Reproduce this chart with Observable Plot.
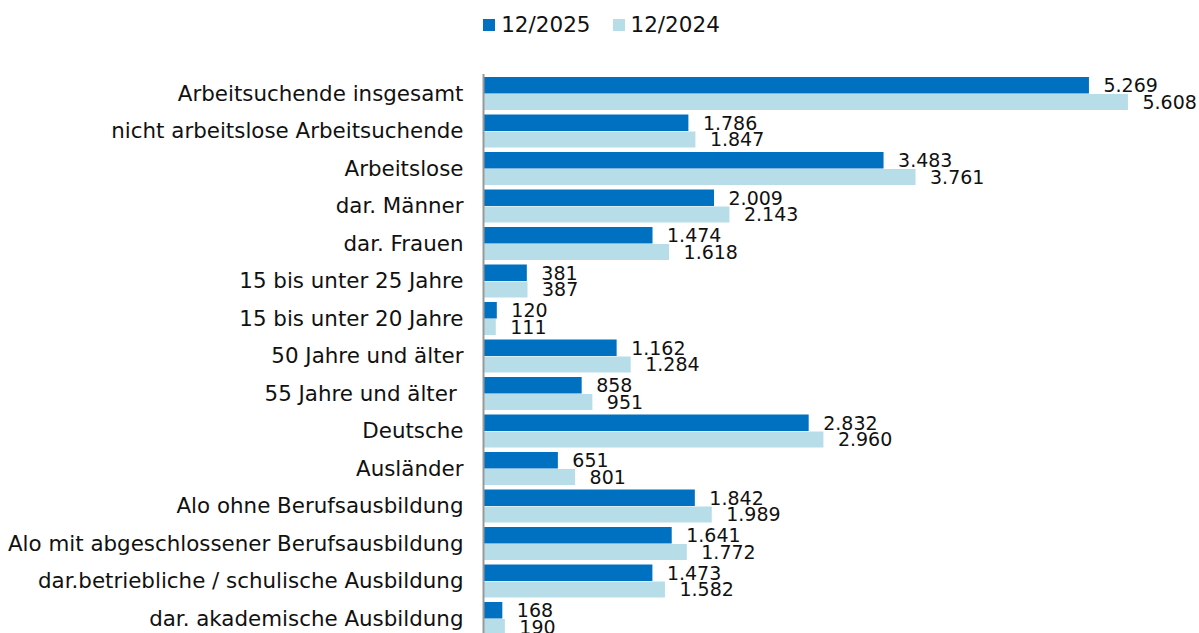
<!DOCTYPE html>
<html>
<head>
<meta charset="utf-8">
<script src="https://cdn.jsdelivr.net/npm/d3@7"></script>
<script src="https://cdn.jsdelivr.net/npm/@observablehq/plot@0.6"></script>
<style>
  html, body { margin: 0; padding: 0; overflow: hidden; background: #fff; }
  body { width: 1199px; height: 633px; font-family: "DejaVu Sans", Verdana, sans-serif; }
  #legend { height: 50px; display: flex; justify-content: center; align-items: flex-start; padding-left: 4px; box-sizing: border-box; }
  .item { display: flex; align-items: center; margin: 0 11px; margin-top: 12px; font-size: 21.5px; color: #111; }
  .sw { width: 12px; height: 12px; margin-right: 6px; margin-top: 1px; }
</style>
</head>
<body>
<div id="legend"></div>
<div id="chart"></div>
<script>
const categories = [
  "Arbeitsuchende insgesamt",
  "nicht arbeitslose Arbeitsuchende",
  "Arbeitslose",
  "dar. Männer",
  "dar. Frauen",
  "15 bis unter 25 Jahre",
  "15 bis unter 20 Jahre",
  "50 Jahre und älter",
  "55 Jahre und älter ",
  "Deutsche",
  "Ausländer",
  "Alo ohne Berufsausbildung",
  "Alo mit abgeschlossener Berufsausbildung",
  "dar.betriebliche / schulische Ausbildung",
  "dar. akademische Ausbildung"
];
const seriesNames = ["12/2025", "12/2024"];
const values2025 = [5269, 1786, 3483, 2009, 1474, 381, 120, 1162, 858, 2832, 651, 1842, 1641, 1473, 168];
const values2024 = [5608, 1847, 3761, 2143, 1618, 387, 111, 1284, 951, 2960, 801, 1989, 1772, 1582, 190];
const colors = ["#0070C0", "#B6DDE8"];

const de = d3.formatLocale({decimal: ",", thousands: ".", grouping: [3], currency: ["", " €"]});
const fmt = de.format(",d");

const d25 = categories.map((c, i) => ({cat: c, v: values2025[i]}));
const d24 = categories.map((c, i) => ({cat: c, v: values2024[i]}));

// legend
const lg = document.getElementById("legend");
seriesNames.forEach((s, i) => {
  const it = document.createElement("div");
  it.className = "item";
  it.innerHTML = `<span class="sw" style="background:${colors[i]}"></span><span>${s}</span>`;
  lg.appendChild(it);
});

const half = 16.5;
const chart = Plot.plot({
  width: 1199,
  height: 592,
  marginLeft: 483,
  marginRight: 26,
  marginTop: 24,
  marginBottom: 4,
  style: {fontFamily: "DejaVu Sans, Verdana, sans-serif", color: "#111", background: "#fff"},
  x: {domain: [0, 6000], axis: null},
  y: {domain: categories, paddingInner: 0.12, paddingOuter: 0.08, round: false, label: null},
  marks: [
    Plot.barX(d25, {x: "v", y: "cat", fill: colors[0], insetBottom: half}),
    Plot.barX(d24, {x: "v", y: "cat", fill: colors[1], insetTop: half + 0.5}),
    Plot.text(d25, {x: "v", y: "cat", text: d => fmt(d.v), textAnchor: "start", dx: 14, dy: -8, fontSize: 19, fill: "#111"}),
    Plot.text(d24, {x: "v", y: "cat", text: d => fmt(d.v), textAnchor: "start", dx: 14, dy: 8.5, fontSize: 19, fill: "#111"}),
    Plot.ruleX([0], {stroke: "#999", strokeWidth: 2}),
    Plot.axisY({tickSize: 0, tickPadding: 20, fontSize: 21.4, label: null, fill: "#111"})
  ]
});
document.getElementById("chart").appendChild(chart);
</script>
</body>
</html>
